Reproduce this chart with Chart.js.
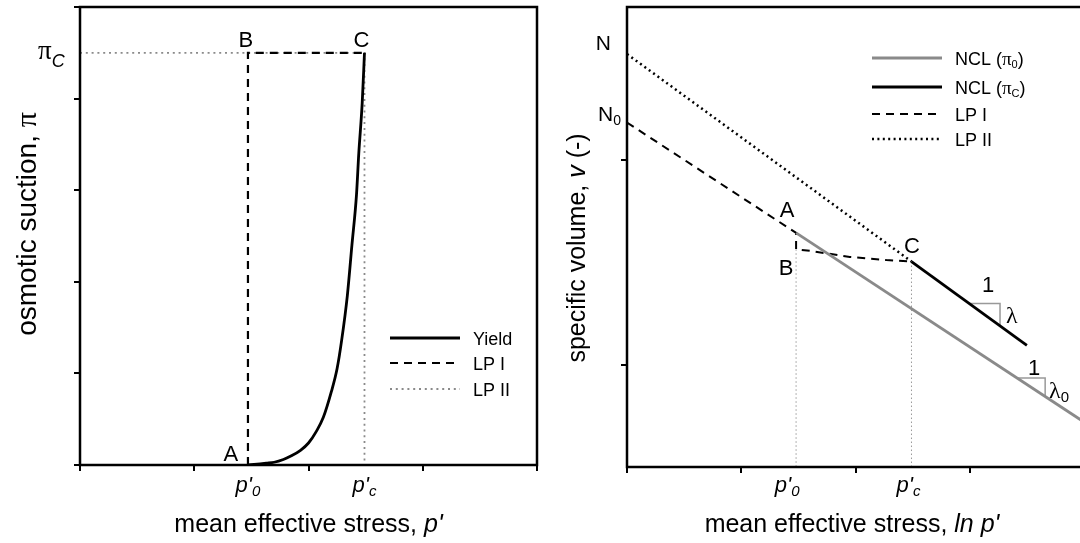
<!DOCTYPE html>
<html>
<head>
<meta charset="utf-8">
<script src="https://cdn.jsdelivr.net/npm/chart.js@4.4.0/dist/chart.umd.min.js"></script>
<style>
  html, body { margin: 0; padding: 0; background: #fff; overflow: hidden; }
  #wrap { position: relative; width: 1080px; height: 543px; overflow: hidden; }
  canvas { position: absolute; top: 0; }
  #left { left: 0; }
  #right { left: 540px; }
</style>
</head>
<body>
<div id="wrap">
  <canvas id="left" width="540" height="543"></canvas>
  <canvas id="right" width="560" height="543"></canvas>
</div>
<script>
// left panel: osmotic suction vs p'
const xTicksL = [0, 1, 2, 3, 4];
const yTicksL = [0, 1, 2, 3, 4, 5];
const pMarksL = [1.47, 2.49];          // p'0, p'c
const piC = 4.5;
const yieldP  = [1.47, 1.55, 1.63, 1.70, 1.78, 1.85, 1.93, 2.00, 2.07, 2.13, 2.20, 2.25, 2.29, 2.34, 2.38, 2.42, 2.44, 2.47, 2.49];
const yieldPi = [0, 0.01, 0.02, 0.03, 0.06, 0.10, 0.16, 0.24, 0.37, 0.52, 0.80, 1.05, 1.36, 1.85, 2.40, 2.95, 3.40, 3.95, 4.5];
const lp1P  = [0, 1.47, 1.47, 2.49];
const lp1Pi = [0, 0, 4.5, 4.5];
const lp2P  = [0, 2.49, 2.49];
const lp2Pi = [4.5, 4.5, 0];

// right panel: specific volume vs ln p'
const xTicksR = [0, 1, 2, 3, 4];
const yTicksR = [1, 3];
const pMarksR = [1.48, 2.49];
const ncl0P = [1.48, 4.0];
const ncl0V = [2.29, 0.44];
const nclcP = [2.49, 3.50];
const nclcV = [2.01, 1.19];
const lp1RP = [0, 1.48, 1.48, 1.60, 1.95, 2.27, 2.49];
const lp1RV = [3.37, 2.29, 2.13, 2.115, 2.055, 2.025, 2.01];
const lp2RP = [0, 2.49];
const lp2RV = [4.04, 2.01];
const dropAP = [1.48, 1.48];
const dropAV = [2.13, 0];
const dropCP = [2.49, 2.49];
const dropCV = [2.01, 0];
const triLamP  = [2.99, 3.265, 3.265];
const triLamV  = [1.60, 1.60, 1.38];
const triLam0P = [3.41, 3.66, 3.66];
const triLam0V = [0.87, 0.87, 0.69];

const SANS = '"Liberation Sans", Arial, sans-serif';
const SERIF = '"Liberation Serif", "Times New Roman", serif';
const GREY = '#8a8a8a';

const pts = (xs, ys) => xs.map((x, i) => ({ x, y: ys[i] }));

// draws a row of text pieces (for subscripts / mixed fonts)
function runs(ctx, parts, x, y, align) {
  let w = 0;
  parts.forEach(p => { ctx.font = p.font; w += ctx.measureText(p.t).width; });
  let cx = align === 'center' ? x - w / 2 : align === 'right' ? x - w : x;
  ctx.textAlign = 'left';
  ctx.textBaseline = 'alphabetic';
  ctx.fillStyle = '#000';
  parts.forEach(p => {
    ctx.font = p.font;
    ctx.fillText(p.t, cx, y + (p.dy || 0));
    cx += ctx.measureText(p.t).width;
  });
}

function vertical(ctx, parts, x, y) {
  ctx.save();
  ctx.translate(x, y);
  ctx.rotate(-Math.PI / 2);
  runs(ctx, parts, 0, 0, 'center');
  ctx.restore();
}

function line(ds, data) {
  return Object.assign({ data, showLine: true, pointRadius: 0, fill: false, tension: 0 }, ds);
}

function axis(min, max, ticks, horizontal) {
  return {
    type: 'linear', min, max,
    afterBuildTicks: s => { s.ticks = ticks.map(v => ({ value: v })); },
    afterFit: s => { if (horizontal) s.height = 0; else s.width = 0; },
    ticks: { display: false },
    grid: { drawOnChartArea: false, drawTicks: true, tickLength: 6, color: '#000', lineWidth: 2 },
    border: { display: false }
  };
}

function legendRows(ctx, chart, rows, x1, x2, tx) {
  rows.forEach(r => {
    const ds = chart.data.datasets[r.ds];
    ctx.save();
    ctx.strokeStyle = ds.borderColor;
    ctx.lineWidth = ds.borderWidth;
    ctx.setLineDash(ds.borderDash || []);
    ctx.beginPath();
    ctx.moveTo(x1, r.y);
    ctx.lineTo(x2, r.y);
    ctx.stroke();
    ctx.restore();
    runs(ctx, r.parts, tx, r.y + 6.5, 'left');
  });
}

const frame = {
  id: 'frame',
  afterDatasetsDraw(chart) {
    const { ctx, chartArea: a } = chart;
    ctx.save();
    ctx.strokeStyle = '#000';
    ctx.lineWidth = 2.5;
    ctx.setLineDash([]);
    ctx.strokeRect(a.left, a.top, a.right - a.left, a.bottom - a.top);
    ctx.restore();
  }
};

const baseOpts = (pad) => ({
  responsive: false,
  animation: false,
  events: [],
  layout: { padding: pad },
  plugins: { legend: { display: false }, tooltip: { enabled: false } }
});

// ---------- left chart ----------
const leftText = {
  id: 'leftText',
  afterDraw(chart) {
    const { ctx, scales: { x, y } } = chart;
    const px0 = x.getPixelForValue(pMarksL[0]);
    const pxc = x.getPixelForValue(pMarksL[1]);
    const yTop = y.getPixelForValue(piC);
    const yBot = y.getPixelForValue(0);

    runs(ctx, [{ t: 'B', font: `22px ${SANS}` }], px0 - 2, yTop - 6, 'center');
    runs(ctx, [{ t: 'C', font: `22px ${SANS}` }], pxc - 3, yTop - 6, 'center');
    runs(ctx, [{ t: 'A', font: `22px ${SANS}` }], px0 - 17, yBot - 4, 'center');
    runs(ctx, [{ t: 'π', font: `27px ${SERIF}` }, { t: 'C', font: `italic 18px ${SANS}`, dy: 8 }], 38, yTop + 6, 'left');

    runs(ctx, [{ t: "p'", font: `italic 22px ${SANS}` }, { t: '0', font: `italic 15px ${SANS}`, dy: 4 }], px0, 492, 'center');
    runs(ctx, [{ t: "p'", font: `italic 22px ${SANS}` }, { t: 'c', font: `italic 15px ${SANS}`, dy: 4 }], pxc, 492, 'center');

    runs(ctx, [{ t: 'mean effective stress, ', font: `25px ${SANS}` }, { t: "p'", font: `italic 25px ${SANS}` }],
      (chart.chartArea.left + chart.chartArea.right) / 2, 532, 'center');
    vertical(ctx, [{ t: 'osmotic suction, ', font: `28px ${SANS}` }, { t: 'π', font: `30px ${SERIF}` }], 36, 224);

    legendRows(ctx, chart, [
      { ds: 0, y: 338, parts: [{ t: 'Yield', font: `18px ${SANS}` }] },
      { ds: 1, y: 363, parts: [{ t: 'LP I', font: `18px ${SANS}` }] },
      { ds: 2, y: 389, parts: [{ t: 'LP II', font: `18px ${SANS}` }] }
    ], 390, 460, 473);
  }
};

new Chart(document.getElementById('left'), {
  type: 'scatter',
  data: {
    datasets: [
      line({ label: 'Yield', borderColor: '#000', borderWidth: 2.8, cubicInterpolationMode: 'monotone' }, pts(yieldP, yieldPi)),
      line({ label: 'LP I', borderColor: '#000', borderWidth: 2.2, borderDash: [8, 6] }, pts(lp1P, lp1Pi)),
      line({ label: 'LP II', borderColor: GREY, borderWidth: 1.8, borderDash: [2, 3.8] }, pts(lp2P, lp2Pi))
    ]
  },
  options: Object.assign(baseOpts({ left: 80, top: 7, right: 3, bottom: 78 }), {
    scales: { x: axis(0, 4, xTicksL, true), y: axis(0, 5, yTicksL, false) }
  }),
  plugins: [frame, leftText]
});

// ---------- right chart ----------
const rightText = {
  id: 'rightText',
  afterDraw(chart) {
    const { ctx, scales: { x, y } } = chart;
    const px0 = x.getPixelForValue(pMarksR[0]);
    const pxc = x.getPixelForValue(pMarksR[1]);
    const left = chart.chartArea.left;

    runs(ctx, [{ t: 'N', font: `21px ${SANS}` }], left - 16, y.getPixelForValue(lp2RV[0]) - 4, 'right');
    runs(ctx, [{ t: 'N', font: `21px ${SANS}` }, { t: '0', font: `14px ${SANS}`, dy: 4 }], left - 6, y.getPixelForValue(lp1RV[0]) - 2, 'right');

    runs(ctx, [{ t: 'A', font: `22px ${SANS}` }], 247, 217, 'center');
    runs(ctx, [{ t: 'B', font: `22px ${SANS}` }], 246, 275, 'center');
    runs(ctx, [{ t: 'C', font: `22px ${SANS}` }], 372, 253, 'center');

    runs(ctx, [{ t: '1', font: `22px ${SANS}` }], 448, 292, 'center');
    runs(ctx, [{ t: 'λ', font: `24px ${SERIF}` }], 466, 323, 'left');
    runs(ctx, [{ t: '1', font: `22px ${SANS}` }], 494, 375, 'center');
    runs(ctx, [{ t: 'λ', font: `24px ${SERIF}` }, { t: '0', font: `15px ${SANS}`, dy: 4 }], 509, 398, 'left');

    runs(ctx, [{ t: "p'", font: `italic 22px ${SANS}` }, { t: '0', font: `italic 15px ${SANS}`, dy: 4 }], px0 - 9, 492, 'center');
    runs(ctx, [{ t: "p'", font: `italic 22px ${SANS}` }, { t: 'c', font: `italic 15px ${SANS}`, dy: 4 }], pxc - 3, 492, 'center');

    runs(ctx, [{ t: 'mean effective stress, ', font: `25px ${SANS}` }, { t: "ln p'", font: `italic 25px ${SANS}` }], 312, 532, 'center');
    vertical(ctx, [{ t: 'specific volume, ', font: `25px ${SANS}` }, { t: 'v', font: `italic 25px ${SANS}` }, { t: ' (-)', font: `25px ${SANS}` }], 45, 248);

    legendRows(ctx, chart, [
      { ds: 0, y: 58, parts: [{ t: 'NCL (', font: `18px ${SANS}` }, { t: 'π', font: `19px ${SERIF}` }, { t: '0', font: `11px ${SANS}`, dy: 3 }, { t: ')', font: `18px ${SANS}` }] },
      { ds: 1, y: 87, parts: [{ t: 'NCL (', font: `18px ${SANS}` }, { t: 'π', font: `19px ${SERIF}` }, { t: 'C', font: `11px ${SANS}`, dy: 3 }, { t: ')', font: `18px ${SANS}` }] },
      { ds: 2, y: 114, parts: [{ t: 'LP I', font: `18px ${SANS}` }] },
      { ds: 3, y: 139, parts: [{ t: 'LP II', font: `18px ${SANS}` }] }
    ], 332, 402, 415);
  }
};

new Chart(document.getElementById('right'), {
  type: 'scatter',
  data: {
    datasets: [
      line({ label: 'NCL (π0)', borderColor: GREY, borderWidth: 2.8 }, pts(ncl0P, ncl0V)),
      line({ label: 'NCL (πc)', borderColor: '#000', borderWidth: 2.8 }, pts(nclcP, nclcV)),
      line({ label: 'LP I', borderColor: '#000', borderWidth: 2, borderDash: [8, 6] }, pts(lp1RP, lp1RV)),
      line({ label: 'LP II', borderColor: '#000', borderWidth: 2.5, borderDash: [2, 3.4] }, pts(lp2RP, lp2RV)),
      line({ label: 'p0 drop', borderColor: '#999', borderWidth: 1, borderDash: [1.5, 2.5] }, pts(dropAP, dropAV)),
      line({ label: 'pc drop', borderColor: '#999', borderWidth: 1, borderDash: [1.5, 2.5] }, pts(dropCP, dropCV)),
      line({ label: 'lambda', borderColor: '#999', borderWidth: 1.5 }, pts(triLamP, triLamV)),
      line({ label: 'lambda0', borderColor: '#999', borderWidth: 1.5 }, pts(triLam0P, triLam0V))
    ]
  },
  options: Object.assign(baseOpts({ left: 87, top: 7, right: 16, bottom: 76 }), {
    scales: { x: axis(0, 4, xTicksR, true), y: axis(0, 4.5, yTicksR, false) }
  }),
  plugins: [frame, rightText]
});
</script>
</body>
</html>
